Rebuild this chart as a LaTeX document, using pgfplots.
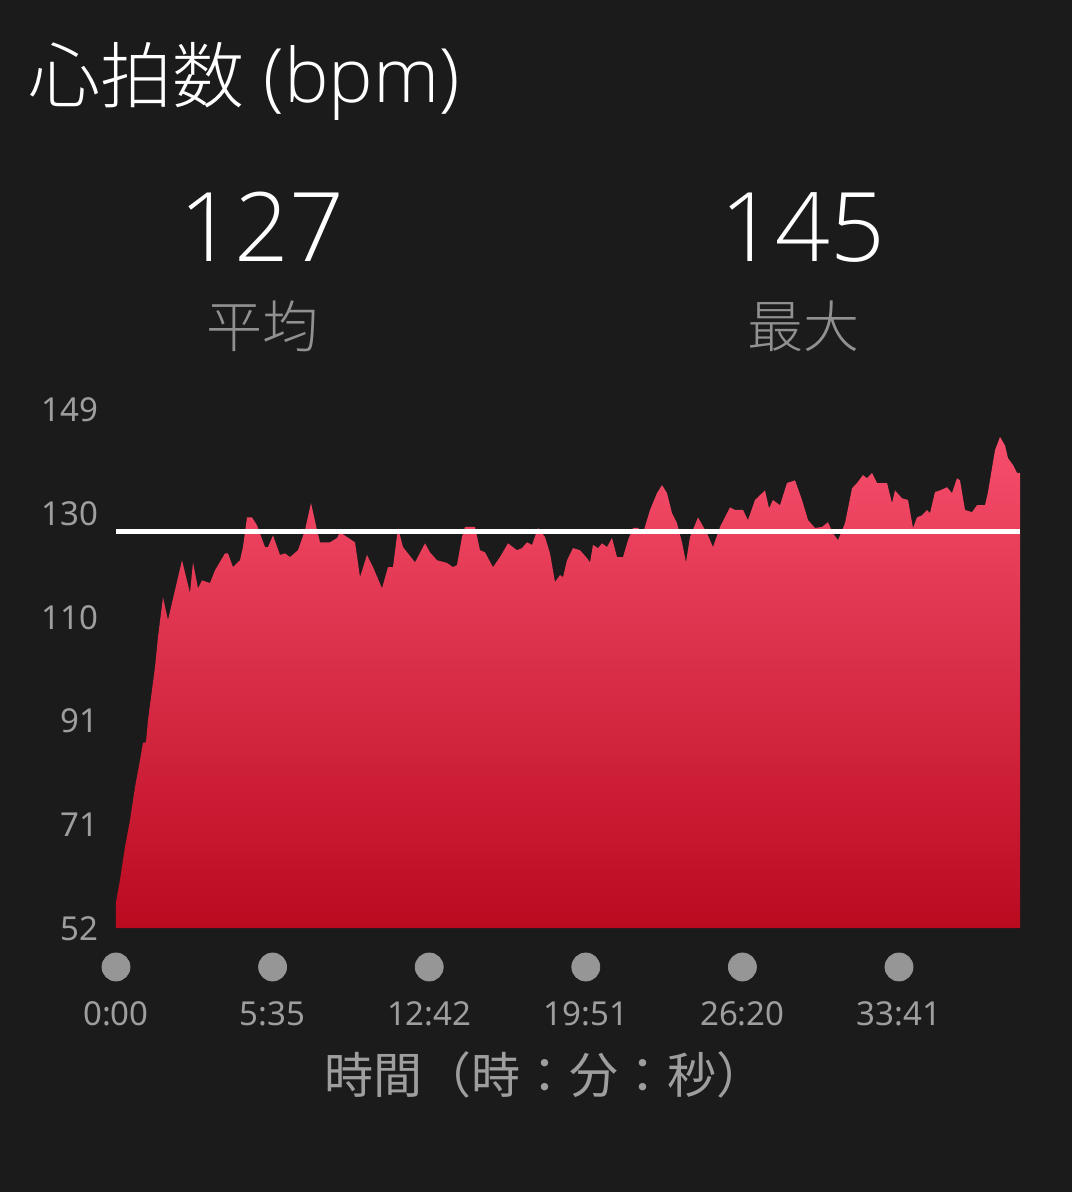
\documentclass[border=0pt]{standalone}
\usepackage{pgfplots}
\pgfplotsset{compat=1.18}
\usepackage{pgfplotstable}
\usepackage{fontspec}
\setmainfont{Noto Sans}
\newfontfamily\cjk{Noto Sans CJK JP}
\newfontfamily\cjkl{Noto Sans CJK JP Light}
\IfFontExistsTF{Open Sans Light}{\newfontfamily\latl{Open Sans Light}}{\let\latl\cjkl}
\definecolor{bg}{RGB}{27,27,27}
\definecolor{lbl}{RGB}{145,145,145}
\definecolor{tck}{RGB}{158,158,158}
\definecolor{dotc}{RGB}{150,150,150}
\definecolor{hrtop}{RGB}{246,78,108}
\definecolor{hrbot}{RGB}{186,10,32}
\pgfplotstableread{
x y
0 52
0 56.9
4 61.1
9 67.3
14 72.4
19 78.6
24 83.7
27 87.0
30 87.1
32 91.3
36 97.0
39 101.3
42 107.0
47 114.5
52 110.2
66 121.5
74 115.3
77 121.1
82 116.2
86 117.7
94 117.2
99 119.6
109 122.8
112 122.8
117 120.2
124 121.5
127 124.0
131 129.6
136 129.6
141 128.1
149 124.0
152 124.0
157 126.2
164 122.5
169 122.8
174 122.1
182 123.4
189 127.2
195 132.3
201 127.2
204 124.9
214 124.9
221 125.7
224 126.8
231 125.9
239 124.9
244 118.3
251 122.5
257 120.2
266 116.2
272 120.2
277 120.2
282 127.6
287 124.0
299 121.1
309 124.7
314 123.0
321 121.5
331 121.0
337 120.2
341 120.6
346 125.9
349 127.8
359 127.8
364 123.4
369 123.0
377 120.2
384 122.1
392 124.7
401 123.4
406 123.8
411 124.9
416 124.4
422 127.6
429 125.9
434 122.8
439 117.4
444 118.7
447 118.3
451 121.5
457 123.8
464 123.4
471 121.9
474 121.1
477 124.4
482 123.8
486 124.7
491 124.0
496 125.7
501 122.1
507 122.1
512 125.3
517 127.6
522 127.6
527 126.6
534 131.0
541 134.2
546 135.7
551 134.2
556 130.4
561 128.5
566 124.9
570 121.1
574 125.9
582 129.6
591 126.6
597 124.0
604 127.8
614 131.5
619 131.0
627 131.0
632 129.1
639 132.9
644 133.8
649 134.7
653 131.3
657 132.9
664 131.9
671 136.1
679 136.6
686 132.9
692 129.1
699 127.6
706 127.8
712 128.7
717 126.6
722 125.3
729 128.5
736 135.1
741 136.1
747 137.6
751 137.0
756 138.0
761 136.1
771 136.1
776 132.3
779 134.7
786 133.2
792 132.9
797 127.6
801 129.6
806 130.0
811 131.0
814 130.4
819 134.4
824 134.7
831 135.3
836 134.2
841 137.0
844 136.6
849 131.0
856 130.6
861 131.9
869 131.9
872 134.4
879 142.3
884 144.8
889 143.2
892 140.8
897 139.5
901 138.0
904 138.0
904 52
}\hrdata
\begin{document}
\begin{tikzpicture}
\fill[bg] (-58bp,-132bp) rectangle (478bp,464bp);
\begin{axis}[
  scale only axis, width=452bp, height=259bp,
  xmin=0, xmax=904, ymin=52, ymax=149.9,
  enlargelimits=false, clip=false,
  axis line style={draw=none}, major tick length=0pt,
  xtick={0,156.6,313.2,469.8,626.4,783},
  xticklabels={0:00,5:35,12:42,19:51,26:20,33:41},
  ytick={52,71.58,91.16,110.74,130.32,149.9},
  yticklabels={52,71,91,110,130,149},
  tick label style={font=\fontsize{16.5bp}{18bp}\selectfont, text=tck, inner sep=0pt},
  xticklabel style={anchor=base, yshift=-48.5bp},
  yticklabel style={anchor=base east, xshift=-8.5bp, yshift=-6bp},
]
\addplot[draw=none, top color=hrtop, bottom color=hrbot] table[x=x,y=y] {\hrdata};
\addplot[white, line width=2.5bp] coordinates {(0,127) (904,127)};
\addplot[only marks, mark=*, mark size=7bp, color=dotc] coordinates {(0,44.63) (156.6,44.63) (313.2,44.63) (469.8,44.63) (626.4,44.63) (783,44.63)};
\end{axis}
\node[anchor=base west, inner sep=0pt, text=white] at (-44bp,412.5bp) {\fontsize{36bp}{40bp}\selectfont\cjkl 心拍数\fontsize{37.5bp}{42bp}\selectfont\latl\ (bpm)};
\node[anchor=base, inner sep=0pt, text=white] at (73bp,333bp) {\fontsize{48bp}{56bp}\selectfont\latl 127};
\node[anchor=base, inner sep=0pt, text=white] at (343.5bp,333bp) {\fontsize{48bp}{56bp}\selectfont\latl 145};
\node[anchor=center, inner sep=0pt, text=lbl] at (73bp,301bp) {\fontsize{28bp}{32bp}\selectfont\cjkl 平均};
\node[anchor=center, inner sep=0pt, text=lbl] at (343.5bp,301bp) {\fontsize{28bp}{32bp}\selectfont\cjkl 最大};
\node[anchor=center, inner sep=0pt, text=tck] at (214.5bp,-73.5bp) {\fontsize{24.5bp}{28bp}\selectfont\cjk 時間（時：分：秒）};
\end{tikzpicture}
\end{document}
